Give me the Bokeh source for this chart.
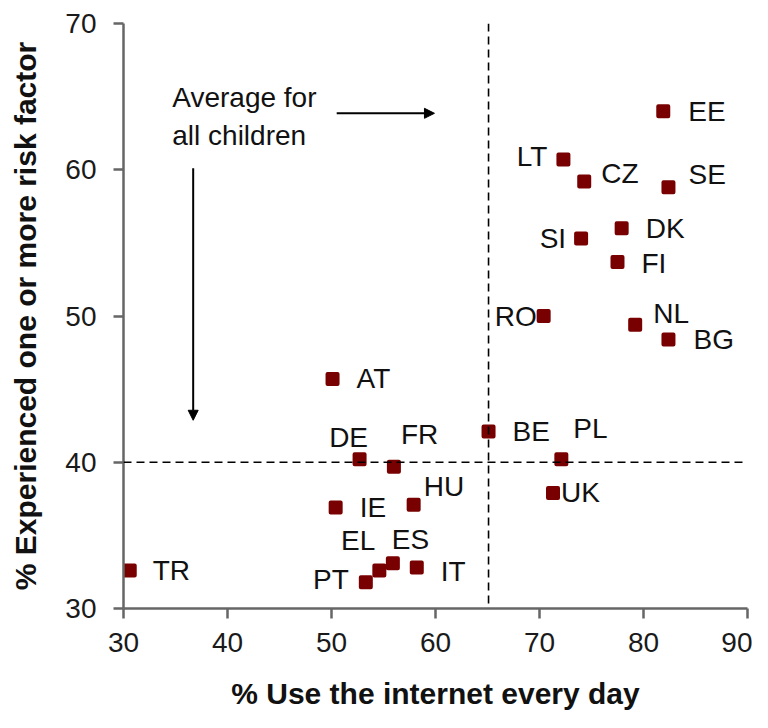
from bokeh.plotting import figure
from bokeh.models import ColumnDataSource, Span, Arrow, NormalHead, FixedTicker, Range1d
from bokeh.core.properties import value
from bokeh.embed import file_html
from bokeh.resources import INLINE

countries = ["TR", "PT", "EL", "ES", "IT", "IE", "HU", "DE", "FR", "AT", "BE", "PL", "UK",
             "RO", "NL", "BG", "FI", "DK", "SI", "CZ", "SE", "LT", "EE"]
daily_use = [30.6, 53.3, 54.6, 55.9, 58.2, 50.4, 57.9, 52.7, 56.0, 50.1, 65.1, 72.1, 71.3,
             70.4, 79.2, 82.4, 77.5, 77.9, 74.0, 74.3, 82.4, 72.3, 81.9]
risk = [32.6, 31.8, 32.6, 33.1, 32.8, 36.9, 37.1, 40.2, 39.7, 45.7, 42.1, 40.2, 37.9,
        50.0, 49.4, 48.4, 53.7, 56.0, 55.3, 59.2, 58.8, 60.7, 64.0]
avg_daily_use = 65.1
avg_risk = 40.0
x_ticks = [30, 40, 50, 60, 70, 80, 90]
y_ticks = [30, 40, 50, 60, 70]
note_lines = ["Average for", "all children"]

# label placement (screen pixel offsets; negative dy = upwards)
label_dx = [23, -17, -4, -1, 24, 24, 10, -11, 7, 24, 24, 12, 8,
            -7, 18, 25, 24, 24, -15, 17, 20, -16, 25]
label_dy = [0, -3, -30, -24, 4, 0, -18, -22, -32, 0, 0, -31, 0,
            0, -11, 0, 2, 0, 0, -8, -13, -3, 0]
label_align = ["left", "right", "right", "left", "left", "left", "left", "center", "left",
               "left", "left", "left", "left", "right", "left", "left", "left", "left",
               "right", "left", "left", "right", "left"]

src = ColumnDataSource(dict(x=daily_use, y=risk, name=countries,
                            dx=label_dx, dy=label_dy, align=label_align))

p = figure(width=752, height=712, output_backend="svg", toolbar_location=None,
           x_range=Range1d(30, 90), y_range=Range1d(30, 70),
           min_border_left=123, min_border_right=5, min_border_top=23, min_border_bottom=104)
p.outline_line_color = None
p.xgrid.visible = False
p.ygrid.visible = False
p.background_fill_color = "white"
p.border_fill_color = "white"

p.add_layout(Span(location=avg_daily_use, dimension="height", line_color="black",
                  line_dash="8 5", line_width=1.6))
p.add_layout(Span(location=avg_risk, dimension="width", line_color="black",
                  line_dash="8 5", line_width=1.6))

p.scatter("x", "y", source=src, marker="square", size=10, fill_color="#780000",
          line_color="#780000", line_width=4, line_join="round")

p.text("x", "y", text="name", source=src, x_offset="dx", y_offset="dy", text_align="align",
       text_baseline="middle", text_font=value("Liberation Sans"), text_font_size="28px",
       text_color="#111111")

p.text(x=[34.69, 34.69], y=[64.95, 62.35], text=note_lines,
       text_font=value("Liberation Sans"), text_font_size="28px", text_baseline="middle",
       text_color="#111111")
p.add_layout(Arrow(end=NormalHead(size=10, fill_color="black", line_color="black"),
                   x_start=50.5, y_start=63.86, x_end=59.9, y_end=63.86,
                   line_color="black", line_width=2))
p.add_layout(Arrow(end=NormalHead(size=10, fill_color="black", line_color="black"),
                   x_start=36.7, y_start=60.1, x_end=36.7, y_end=42.87,
                   line_color="black", line_width=2))

for ax, ticks in ((p.xaxis, x_ticks), (p.yaxis, y_ticks)):
    ax.ticker = FixedTicker(ticks=ticks)
    ax.minor_tick_line_color = None
    ax.axis_line_color = "#666666"
    ax.axis_line_width = 2.5
    ax.major_tick_line_color = "#666666"
    ax.major_tick_line_width = 2.5
    ax.major_tick_out = 10
    ax.major_tick_in = 0
    ax.major_label_text_font = "Liberation Sans"
    ax.major_label_text_font_size = "28px"
    ax.major_label_text_color = "#1a1a1a"
    ax.axis_label_text_font = "Liberation Sans"
    ax.axis_label_text_font_style = "bold"
    ax.axis_label_text_font_size = "30px"
    ax.axis_label_text_color = "#111111"

p.xaxis.axis_label = "% Use the internet every day"
p.yaxis.axis_label = "% Experienced one or more risk factor"
p.xaxis.major_label_standoff = 14
p.yaxis.major_label_standoff = 17
p.xaxis.axis_label_standoff = 22
p.yaxis.axis_label_standoff = 20

open("out.html", "w").write(file_html(p, INLINE))
